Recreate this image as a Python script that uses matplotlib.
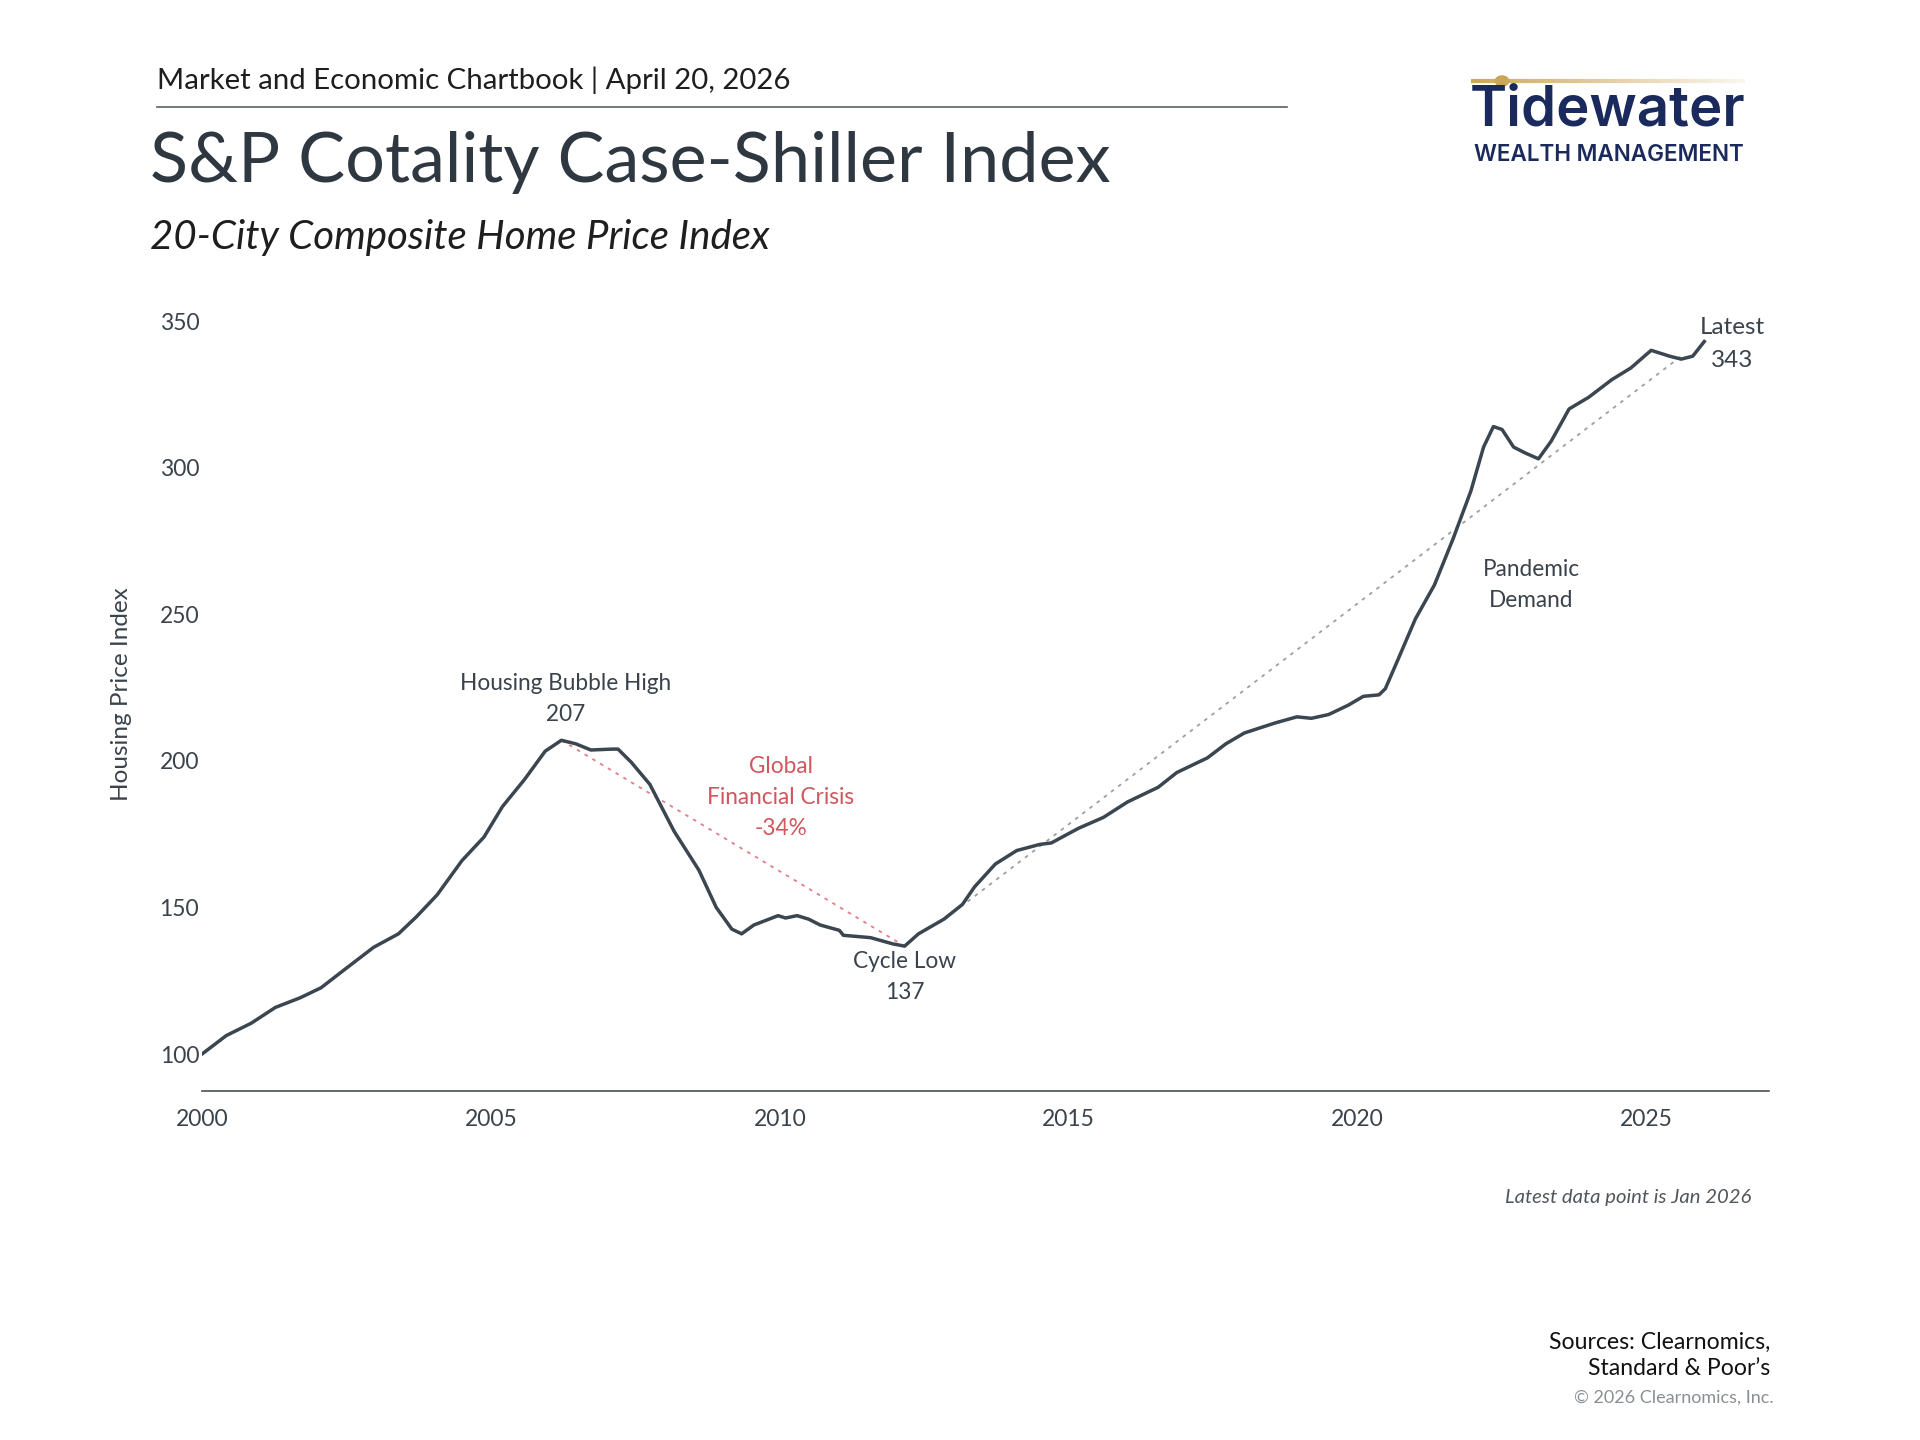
import numpy as np
import matplotlib
matplotlib.use("Agg")
import matplotlib.pyplot as plt
from matplotlib.collections import LineCollection

plt.rcParams['font.family'] = ['Lato', 'DejaVu Sans']

# Case-Shiller 20-city composite
years = [2000.0, 2000.42, 2000.85, 2001.27, 2001.7, 2002.06, 2002.44, 2002.97, 2003.4, 2003.71,
         2004.07, 2004.5, 2004.88, 2005.2, 2005.58, 2005.94, 2006.22, 2006.47, 2006.73, 2007.1,
         2007.2, 2007.43, 2007.75, 2008.17, 2008.6, 2008.9, 2009.17, 2009.34, 2009.55, 2009.97,
         2010.1, 2010.3, 2010.5, 2010.7, 2011.03, 2011.1, 2011.57, 2011.95, 2012.16, 2012.4,
         2012.84, 2013.16, 2013.37, 2013.73, 2014.1, 2014.5, 2014.7, 2015.17, 2015.6, 2016.02,
         2016.55, 2016.87, 2017.4, 2017.72, 2018.04, 2018.57, 2018.95, 2019.2, 2019.5, 2019.84,
         2020.1, 2020.37, 2020.48, 2020.7, 2021.0, 2021.33, 2021.65, 2021.96, 2022.18, 2022.35,
         2022.5, 2022.7, 2022.9, 2023.13, 2023.35, 2023.66, 2024.0, 2024.4, 2024.73, 2025.08,
         2025.4, 2025.6, 2025.8, 2026.0]
index = [100.0, 106.3, 110.5, 115.9, 119.2, 122.6, 128.4, 136.4, 141.0, 146.8,
         154.3, 166.0, 174.0, 184.4, 193.6, 203.3, 207.0, 205.8, 203.7, 204.0,
         204.0, 199.5, 192.0, 176.0, 162.7, 150.0, 142.6, 141.0, 144.0, 147.2,
         146.4, 147.2, 146.0, 144.0, 142.2, 140.5, 139.7, 137.6, 136.8, 141.0,
         146.0, 151.0, 157.0, 164.8, 169.4, 171.5, 172.0, 177.0, 180.7, 186.0,
         191.0, 196.0, 201.0, 205.8, 209.5, 212.9, 215.0, 214.5, 215.8, 219.0,
         222.0, 222.5, 224.6, 234.6, 248.4, 260.0, 275.6, 292.0, 307.0, 314.0,
         313.0, 307.0, 305.0, 303.0, 309.0, 320.0, 324.0, 330.0, 334.0, 340.0,
         338.0, 337.0, 338.0, 343.0]

peak = (2006.22, 207.0)
low = (2012.16, 136.8)
trend_start = (2013.25, 152.0)
trend_end = (2025.6, 338.0)

xticks = [2000, 2005, 2010, 2015, 2020, 2025]
yticks = [100, 150, 200, 250, 300, 350]

W, H = 1920, 1440
def fx(px):
    return px / W
def fy(py):
    return 1 - py / H

text_dark = '#3a434b'
line_col = '#3b4650'
red = '#d0575c'

fig = plt.figure(figsize=(19.2, 14.4), dpi=100)
ax = fig.add_axes([fx(202), fy(1091), fx(1769) - fx(202), fy(321) - fy(1091)])

ax.plot(years, index, color=line_col, lw=2.5, zorder=3, solid_joinstyle='round')
ax.plot([peak[0], low[0]], [peak[1], low[1]], color='#e08088', lw=1.3, ls=(0, (2, 3)), zorder=2)
ax.plot([trend_start[0], trend_end[0]], [trend_start[1], trend_end[1]], color='#9aa0a4',
        lw=1.3, ls=(0, (2, 3)), zorder=2)

ax.set_xlim(2000, 2027.12)
ax.set_ylim(87.4, 350)
ax.set_xticks(xticks)
ax.set_yticks(yticks)
ax.tick_params(length=0, labelsize=16.5, labelcolor=text_dark, pad=13)
ax.tick_params(axis='y', pad=2)
for s in ['top', 'right', 'left']:
    ax.spines[s].set_visible(False)
ax.spines['bottom'].set_color('#4a5056')
ax.spines['bottom'].set_linewidth(1.2)
ax.set_ylabel('Housing Price Index', fontsize=17.5, color=text_dark, labelpad=20)
ax.yaxis.label.set_y(0.515)

ann = dict(ha='center', va='center', fontsize=16.3, color=text_dark, linespacing=1.6)
ax.text(2006.3, 221, 'Housing Bubble High\n207', **ann)
ax.text(2010.02, 187.5, 'Global\nFinancial Crisis\n-34%', **dict(ann, color=red))
ax.text(2012.16, 126.4, 'Cycle Low\n137', **ann)
ax.text(2023.0, 260, 'Pandemic\nDemand', **ann)
ax.text(2026.49, 342.3, 'Latest\n343', clip_on=False, **dict(ann, fontsize=17.5, linespacing=1.7))

# header
fig.text(fx(157), fy(80), 'Market and Economic Chartbook | April 20, 2026', fontsize=21.2,
         color='#1e1e1e', va='center', ha='left')
fig.add_artist(plt.Line2D([fx(157), fx(1287)], [fy(107), fy(107)], color='#5a6066', lw=1.2))
fig.text(fx(150), fy(163), 'S&P Cotality Case-Shiller Index', fontsize=50.5, color='#2f3840',
         va='center', ha='left')
fig.text(fx(150), fy(237), '20-City Composite Home Price Index', fontsize=29, style='italic',
         color='#1e1e1e', va='center', ha='left')

# logo
gx = np.linspace(fx(1471), fx(1745), 60)
segs = [[(gx[i], fy(81)), (gx[i + 1], fy(81))] for i in range(len(gx) - 1)]
alphas = np.linspace(1, 0.1, len(segs))
cols = [(0.80, 0.66, 0.35, a) for a in alphas]
fig.add_artist(LineCollection(segs, colors=cols, linewidths=3, transform=fig.transFigure))
fig.add_artist(plt.Circle((fx(1502), fy(81)), 0.0035, color='#c9a45a', transform=fig.transFigure))
fig.text(fx(1470), fy(111), 'Tidewater', fontsize=40.5, fontweight='semibold', color='#1b2a5c',
         va='center', ha='left', family=['Inter', 'DejaVu Sans'])
fig.text(fx(1474), fy(155), 'WEALTH MANAGEMENT', fontsize=16.2, fontweight='semibold',
         color='#1b2a5c', va='center', ha='left', family=['Inter', 'DejaVu Sans'])

# footer
fig.text(fx(1751), fy(1197), 'Latest data point is Jan 2026', fontsize=14.6, style='italic',
         color='#50565c', ha='right', va='center')
fig.text(fx(1770), fy(1355), 'Sources: Clearnomics,\nStandard & Poor\u2019s', fontsize=16.6,
         color='#111111', ha='right', va='center', linespacing=1.3)
fig.text(fx(1774), fy(1398), '\u00a9 2026 Clearnomics, Inc.', fontsize=13, color='#8a8f94',
         ha='right', va='center')

fig.savefig('out.png', dpi=100, facecolor='white')
